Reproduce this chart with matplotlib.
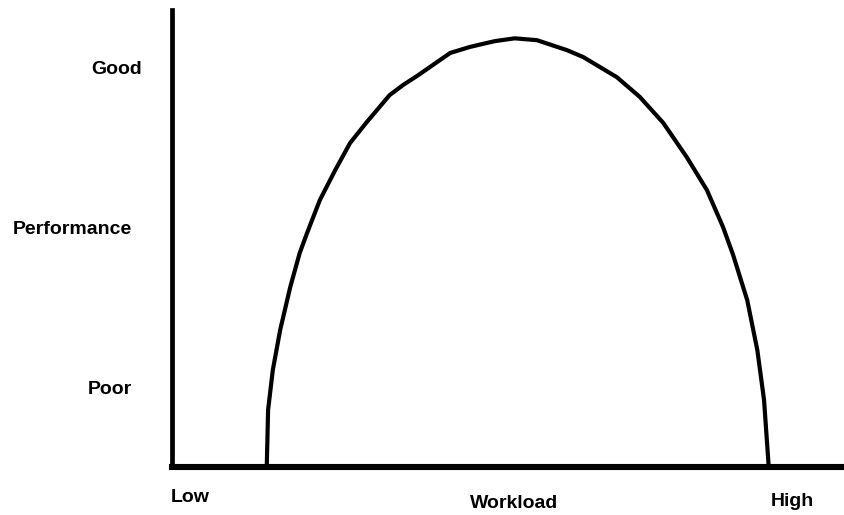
import matplotlib
matplotlib.use("Agg")
import matplotlib.pyplot as plt

# workload (0-100) vs performance (0-100)
workload = [14.1, 14.3, 15.0, 16.1, 17.6, 19.0, 20.1, 22.0, 24.3, 26.5, 29.0, 32.4,
            34.4, 36.5, 41.4, 44.3, 46.3, 48.1, 51.0, 54.3, 58.8, 61.2, 66.2, 69.6,
            73.1, 76.6, 79.6, 82.0, 83.5, 85.6, 87.1, 88.1, 88.8]
performance = [0, 12.5, 21.2, 30.0, 39.4, 46.8, 51.2, 58.4, 65.0, 70.9, 75.5, 81.4,
               83.6, 85.6, 90.6, 91.9, 92.6, 93.2, 93.8, 93.4, 91.2, 89.7, 85.3, 81.0,
               75.3, 67.8, 60.6, 52.5, 46.4, 36.5, 25.6, 14.7, 0]

y_labels = ["Good", "Performance", "Poor"]
x_labels = ["Low", "Workload", "High"]

W, H = 844, 515
fig = plt.figure(figsize=(W / 100, H / 100), dpi=100)
fig.patch.set_facecolor("white")

# axes box in pixel terms
ax = fig.add_axes([172 / W, (H - 467) / H, (W - 172) / W, (467 - 10) / H])
ax.set_xlim(0, 100)
ax.set_ylim(0, 100)

ax.plot(workload, performance, color="black", lw=3.0, solid_joinstyle="round")

for s in ["top", "right"]:
    ax.spines[s].set_visible(False)
ax.spines["left"].set_linewidth(3.4)
ax.spines["bottom"].set_linewidth(4.4)
ax.set_xticks([])
ax.set_yticks([])

font = dict(family=["Liberation Sans Narrow", "Liberation Sans", "DejaVu Sans"],
            weight="bold", fontsize=14, color="black")

# y side labels
ypos = [(117, 70), (72, 230), (110, 390)]
for lab, (px, py) in zip(y_labels, ypos):
    fig.text(px / W, 1 - py / H, lab, ha="center", va="center", **font)

# x side labels
xpos = [(190, 497), (514, 504), (792, 502)]
for lab, (px, py) in zip(x_labels, xpos):
    fig.text(px / W, 1 - py / H, lab, ha="center", va="center", **font)

plt.savefig("out.png", dpi=100)
plt.close()
